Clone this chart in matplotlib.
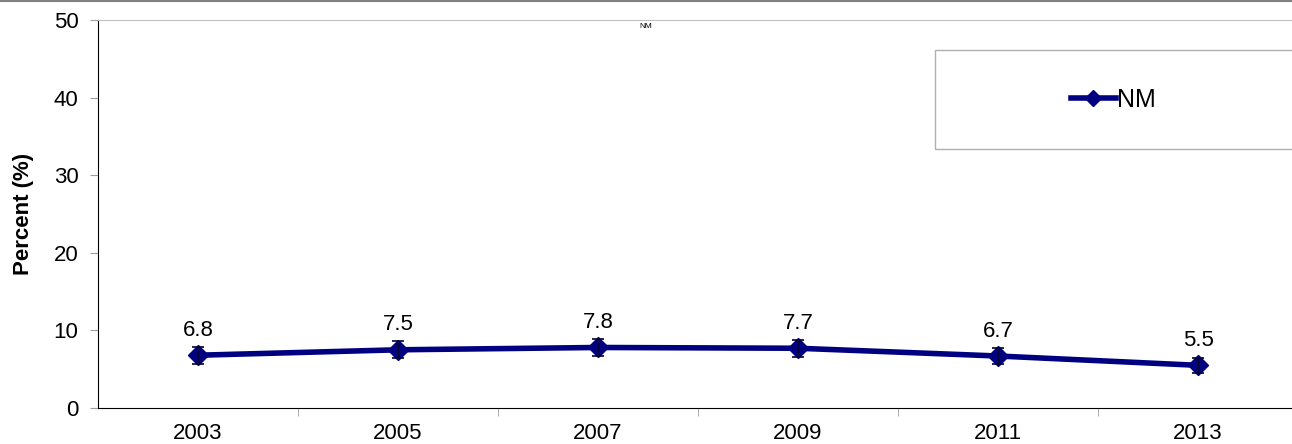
import matplotlib.pyplot as plt
from matplotlib.patches import Rectangle
from matplotlib.lines import Line2D

years = ["2003", "2005", "2007", "2009", "2011", "2013"]
nm_values = [6.8, 7.5, 7.8, 7.7, 6.7, 5.5]
nm_err = [1.1, 1.1, 1.1, 1.1, 1.0, 1.0]

navy = "#000080"
plt.rcParams["font.family"] = ["Liberation Sans", "DejaVu Sans"]

fig = plt.figure(figsize=(12.92, 4.44), dpi=100)
W, H = 1292, 444
ax = fig.add_axes([98 / W, 1 - 408 / H, 1194 / W, 388 / H])

x = list(range(len(years)))
ax.plot(x, nm_values, color=navy, lw=4, marker="D", ms=10, zorder=3)
# error bars drawn over the markers, like the original
ax.errorbar(x, nm_values, yerr=nm_err, fmt="none", ecolor="#000033",
            elinewidth=1, capsize=4, capthick=1.2, zorder=4)

for xi, v in zip(x, nm_values):
    ax.annotate(f"{v:.1f}", (xi, v), xytext=(0, 14), textcoords="offset points",
                ha="center", va="baseline", fontsize=16)

ax.set_xlim(-0.5, 5.47)
ax.set_ylim(0, 50)
ax.set_yticks([0, 10, 20, 30, 40, 50])
ax.set_xticks(x)
ax.set_xticklabels(years)
ax.set_xticks([i + 0.5 for i in range(5)], minor=True)
ax.tick_params(axis="x", which="major", length=0, labelsize=16, pad=11)
ax.tick_params(axis="x", which="minor", length=6, color="#a0a0a0", direction="out")
ax.tick_params(axis="y", length=6, color="#a0a0a0", labelsize=16, pad=8)
ax.set_ylabel("Percent (%)", fontsize=16, fontweight="bold", labelpad=14)

ax.spines["right"].set_visible(False)
ax.spines["top"].set_color("#c0c0c0")
ax.spines["left"].set_color("black")
ax.spines["bottom"].set_color("black")

# legend box
ax.add_patch(Rectangle((0.701, 0.668), 0.4, 0.255, transform=ax.transAxes,
                       fill=False, edgecolor="#b0b0b0", lw=1, clip_on=False))
handle = Line2D([], [], color=navy, lw=4, marker="D", ms=8)
ax.legend([handle], ["NM"], loc="center", bbox_to_anchor=(1113 / W, 1 - 100 / H),
          bbox_transform=fig.transFigure, frameon=False, fontsize=18,
          handlelength=1.8, handletextpad=0.05)

fig.text(0.5, 1 - 27 / H, "NM", fontsize=6, ha="center", va="center")
fig.add_artist(Line2D([0, 1], [1 - 1 / H, 1 - 1 / H], transform=fig.transFigure,
                      color="#808080", lw=1.5))

fig.savefig("out.png", dpi=100)
